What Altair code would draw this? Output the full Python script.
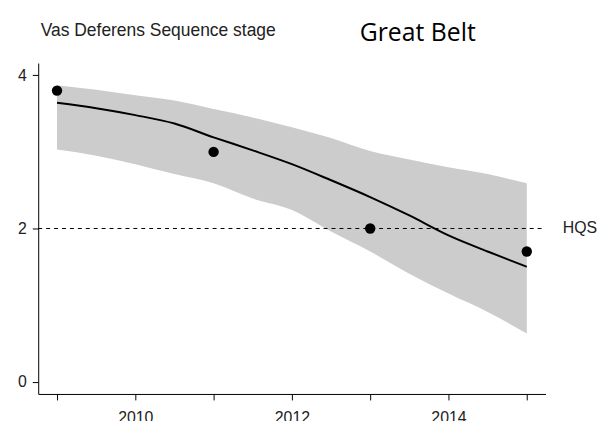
import altair as alt
import pandas as pd

# Observed values (black points)
obs_years = [2009, 2011, 2013, 2015]
obs_values = [3.8, 3.0, 2.0, 1.7]

# Fitted trend with confidence band
fit_years = [2009, 2009.5, 2010, 2010.5, 2011, 2011.5, 2012, 2012.5, 2013, 2013.5, 2014, 2014.5, 2015]
fit_values = [3.64, 3.57, 3.48, 3.37, 3.19, 3.02, 2.84, 2.63, 2.41, 2.17, 1.91, 1.70, 1.50]
upper_values = [3.87, 3.81, 3.74, 3.67, 3.56, 3.45, 3.32, 3.18, 3.01, 2.90, 2.80, 2.71, 2.59]
lower_values = [3.03, 2.95, 2.84, 2.71, 2.59, 2.39, 2.24, 1.96, 1.70, 1.41, 1.15, 0.91, 0.63]

# HQS reference line
hqs_value = 2
hqs_label = "HQS"
hqs_x_start = 2008.76
hqs_x_end = 2015.19
hqs_label_x = 2015.46

x_domain = [2008.76, 2015.24]
y_domain = [-0.16, 4.16]
x_ticks = [2009, 2010, 2011, 2012, 2013, 2014, 2015]
y_ticks = [0, 2, 4]

fit_df = pd.DataFrame({"year": fit_years, "fit": fit_values, "upper": upper_values, "lower": lower_values})
obs_df = pd.DataFrame({"year": obs_years, "value": obs_values})
hqs_df = pd.DataFrame({"x": [hqs_x_start], "x2": [hqs_x_end], "y": [hqs_value]})
lab_df = pd.DataFrame({"x": [hqs_label_x], "y": [hqs_value], "t": [hqs_label]})

FONT = "Liberation Sans"
xscale = alt.Scale(domain=x_domain, nice=False, zero=False)
yscale = alt.Scale(domain=y_domain, nice=False, zero=False)

x_axis = alt.Axis(values=x_ticks, format="d", labelExpr="datum.value % 2 == 0 ? datum.label : ''",
                  tickSize=6, labelPadding=10, grid=False, domainColor="black", tickColor="black",
                  labelFont=FONT, labelFontSize=16, labelColor="#222", title=None, labelOverlap=False)
y_axis = alt.Axis(values=y_ticks, format="d", tickSize=6, labelPadding=6, grid=False,
                  domainColor="black", tickColor="black", labelFont=FONT, labelFontSize=16,
                  labelColor="#222", title="Vas Deferens Sequence stage", titleAngle=0,
                  titleAlign="left", titleBaseline="alphabetic", titleX=2, titleY=-28,
                  titleFont=FONT, titleFontSize=17.6, titleFontWeight="normal", titleColor="#222")


def X(field):
    return alt.X(field, scale=xscale, axis=x_axis)


def Y(field):
    return alt.Y(field, scale=yscale, axis=y_axis)


band = alt.Chart(fit_df).mark_area(color="#CCCCCC", opacity=1, interpolate="monotone").encode(
    x=X("year:Q"), y=Y("upper:Q"), y2="lower:Q",
)
rule = alt.Chart(hqs_df).mark_rule(color="black", strokeWidth=1, strokeDash=[4, 4]).encode(
    x=X("x:Q"), x2="x2:Q", y=Y("y:Q"),
)
line = alt.Chart(fit_df).mark_line(color="black", strokeWidth=2, interpolate="monotone").encode(
    x=X("year:Q"), y=Y("fit:Q"),
)
points = alt.Chart(obs_df).mark_circle(color="black", opacity=1, size=110).encode(
    x=X("year:Q"), y=Y("value:Q"),
)
label = alt.Chart(lab_df).mark_text(align="left", baseline="middle", font=FONT, fontSize=16,
                                    color="#222").encode(
    x=X("x:Q"), y=Y("y:Q"), text="t:N",
)

chart = alt.layer(band, rule, line, points, label).properties(
    width=512,
    height=334,
    background="white",
    title=alt.TitleParams("Great Belt", font="Open Sans", fontSize=25, fontWeight="normal",
                          color="black", anchor="middle", baseline="alphabetic", dx=127, dy=49),
    autosize=alt.AutoSizeParams(type="none"),
    padding={"left": 30.5, "top": 53.6, "right": 62, "bottom": 30},
).configure_view(stroke=None)

chart.save("out.html", embed_options={"renderer": "svg", "actions": False})
